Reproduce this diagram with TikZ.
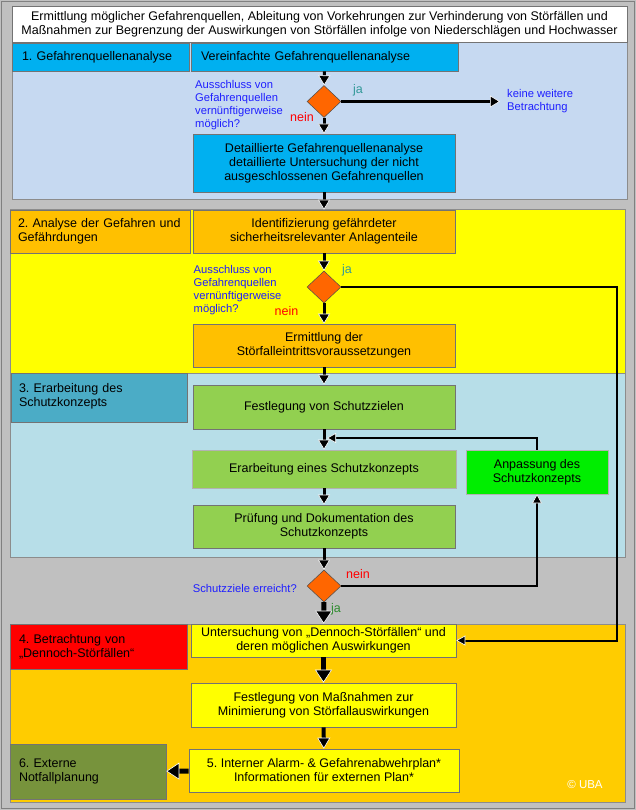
\documentclass[tikz,border=0pt]{standalone}
\usepackage{fontspec}
\setmainfont{Liberation Sans}
\usetikzlibrary{arrows.meta,shapes.geometric}
\frenchspacing

\definecolor{bggray}{HTML}{C0C0C0}
\definecolor{panelA}{HTML}{C6D9F1}
\definecolor{panelB}{HTML}{FFFF00}
\definecolor{panelC}{HTML}{B7DEE8}
\definecolor{panelD}{HTML}{FFCC00}
\definecolor{cyanbox}{HTML}{00B0F0}
\definecolor{orangebox}{HTML}{FFC000}
\definecolor{tealbox}{HTML}{4BACC6}
\definecolor{greenbox}{HTML}{92D050}
\definecolor{limebox}{HTML}{00EE00}
\definecolor{olivebox}{HTML}{77933C}
\definecolor{askfill}{HTML}{FF6600}
\definecolor{asktext}{HTML}{1F1FFF}
\definecolor{jateal}{HTML}{339999}
\definecolor{jagreen}{HTML}{2E8B2E}

\newcommand{\fs}{\fontsize{12.5}{14}\selectfont}
\newcommand{\fq}{\fontsize{11.2}{13}\selectfont}

\begin{document}
\begin{tikzpicture}[x=1pt,y=-1pt,
  box/.style={draw=black!55,line width=0.6pt,align=center,inner sep=0pt,font=\fs},
  tag/.style={box,align=left,text width=#1},
  ask/.style={diamond,draw=black!70,fill=askfill,line width=0.5pt,
    minimum width=34pt,minimum height=32pt,inner sep=0pt},
  quest/.style={text=asktext,align=left,font=\fq,inner sep=0pt},
  jatext/.style={text=jateal,font=\fs,inner sep=0pt},
  neintext/.style={text=red,font=\fs,inner sep=0pt},
  conn/.style={line width=3pt,-{Triangle[length=10pt,width=12pt,fill=black,color=white,line width=0.6pt]}},
  bigconn/.style={line width=5pt,-{Triangle[length=13pt,width=17pt,fill=black,color=white,line width=0.6pt]}},
  loopline/.style={line width=2pt,-{Triangle[length=9pt,width=10pt,fill=black,color=white,line width=0.6pt]}}]
   % background and panels
   \fill[bggray] (0,0) rectangle (636,810);
   \draw[black!50,line width=1pt] (1.5,1.5) rectangle (634.5,808.5);
   \draw[black!45,fill=panelA] (12,42) rectangle (627,199);
   \draw[black!45,fill=panelB] (10,209) rectangle (625,373);
   \draw[black!45,fill=panelC] (10,373) rectangle (625,557);
   \draw[black!45,fill=panelD] (10,624) rectangle (625,802);
   \node[box,fill=white,minimum width=615pt,minimum height=36pt,font=\fontsize{12.5}{13.6}\selectfont]
     (title) at (319.5,24) {Ermittlung möglicher Gefahrenquellen, Ableitung von Vorkehrungen zur Verhinderung von Störfällen und\\
     Maßnahmen zur Begrenzung der Auswirkungen von Störfällen infolge von Niederschlägen und Hochwasser};

   % 1. Gefahrenquellenanalyse
   \node[tag=157pt,fill=cyanbox,minimum width=177pt,minimum height=28pt] (g1) at (100.5,57) {1. Gefahrenquellenanalyse};
   \node[tag=247pt,fill=cyanbox,minimum width=267pt,minimum height=28pt] (v1) at (324.5,57) {Vereinfachte Gefahrenquellenanalyse};
   \node[ask] (d1) at (324,101.5) {};
   \node[box,fill=cyanbox,minimum width=262pt,minimum height=58pt] (det) at (324,163)
     {Detaillierte Gefahrenquellenanalyse\\detaillierte Untersuchung der nicht\\ausgeschlossenen Gefahrenquellen};
   \node[quest,anchor=west] (q1) at (195,105) {Ausschluss von\\Gefahrenquellen\\vernünftigerweise\\möglich?};
   \node[jatext] (ja1) at (358,90) {ja};
   \node[neintext] (nein1) at (302,117) {nein};
   \node[quest,anchor=west] (kw) at (507,101.5) {keine weitere\\Betrachtung};
   \coordinate (kwend) at (500,101.5);

   % 2. Analyse der Gefahren
   \node[tag=164pt,fill=orangebox,minimum width=180pt,minimum height=43pt] (g2) at (100,231.5) {2. Analyse der Gefahren und\\Gefährdungen};
   \node[box,fill=orangebox,minimum width=262pt,minimum height=43pt] (ident) at (324,231.5)
     {Identifizierung gefährdeter\\sicherheitsrelevanter Anlagenteile};
   \node[ask] (d2) at (324,287) {};
   \node[box,fill=orangebox,minimum width=262pt,minimum height=43pt] (ermitt) at (324,345.5)
     {Ermittlung der\\Störfalleintrittsvoraussetzungen};
   \node[quest,anchor=west] (q2) at (193.5,290.5) {Ausschluss von\\Gefahrenquellen\\vernünftigerweise\\möglich?};
   \node[jatext] (ja2) at (347,270) {ja};
   \node[neintext] (nein2) at (286.5,311) {nein};
   \coordinate (rail) at (617,0);

   % 3. Schutzkonzept
   \node[tag=160pt,fill=tealbox,minimum width=176pt,minimum height=49pt,text depth=20pt] (g3) at (99,397.5) {3. Erarbeitung des\\Schutzkonzepts};
   \node[box,fill=greenbox,minimum width=262pt,minimum height=44pt] (fest) at (324,407) {Festlegung von Schutzzielen};
   \node[box,fill=greenbox,draw=black!30,minimum width=264pt,minimum height=38pt] (erarb) at (324,469) {Erarbeitung eines Schutzkonzepts};
   \node[box,fill=limebox,draw=black!30,minimum width=142pt,minimum height=44pt] (anp) at (537,472) {Anpassung des\\Schutzkonzepts};
   \node[box,fill=greenbox,minimum width=262pt,minimum height=43pt] (pruef) at (324,526.5)
     {Prüfung und Dokumentation des\\Schutzkonzepts};
   \node[ask] (d3) at (324,586) {};
   \node[quest,anchor=east] (sz) at (297,588) {Schutzziele erreicht?};
   \node[neintext] (nein3) at (358,574) {nein};
   \node[jatext,text=jagreen] (ja3) at (336,609) {ja};
   \coordinate (back) at (327,438);

   % 4. - 6.
   \node[tag=159pt,fill=red,minimum width=177pt,minimum height=45pt] (g4) at (98.5,646.5) {4. Betrachtung von\\„Dennoch-Störfällen“};
   \node[box,fill=panelB,minimum width=265pt,minimum height=33pt] (unters) at (323.5,640.5)
     {Untersuchung von „Dennoch-Störfällen“ und\\deren möglichen Auswirkungen};
   \node[box,fill=panelB,minimum width=265pt,minimum height=44pt] (massn) at (323.5,705)
     {Festlegung von Maßnahmen zur\\Minimierung von Störfallauswirkungen};
   \node[box,fill=panelB,minimum width=270pt,minimum height=43pt] (plan) at (324,770.5)
     {5. Interner Alarm- \& Gefahrenabwehrplan*\\Informationen für externen Plan*};
   \node[tag=138pt,fill=olivebox,minimum width=156pt,minimum height=55pt] (g6) at (88,771.5) {6. Externe\\Notfallplanung};
   \node[text=white,font=\fontsize{11.5}{13}\selectfont,inner sep=0pt] (uba) at (585,785) {© UBA};

   % connectors
   \draw[conn] (v1) -- (d1);
   \draw[line width=2.5pt,-{Triangle[length=10pt,width=12pt,fill=black,color=white,line width=0.6pt]}] (d1.east) -- (kwend);
   \draw[conn] (d1) -- (det);
   \draw[conn] (det) -- (ident);
   \draw[conn] (ident) -- (d2);
   \draw[conn] (d2) -- (ermitt);
   \draw[loopline] (d2.east) -- (d2.east -| rail) |- (unters.east);
   \draw[conn] (ermitt) -- (fest);
   \draw[conn] (fest) -- (erarb);
   \draw[loopline] (anp.north) |- (back);
   \draw[conn] (erarb) -- (pruef);
   \draw[conn] (pruef) -- (d3);
   \draw[loopline] (d3.east) -| (anp.south);
   \draw[bigconn] (d3) -- (unters);
   \draw[bigconn] (unters) -- (massn);
   \draw[line width=4pt,-{Triangle[length=11pt,width=13pt,fill=black,color=white,line width=0.6pt]}] (massn) -- (plan);
   \draw[bigconn] (plan) -- (g6);
  \end{tikzpicture}
\end{document}
